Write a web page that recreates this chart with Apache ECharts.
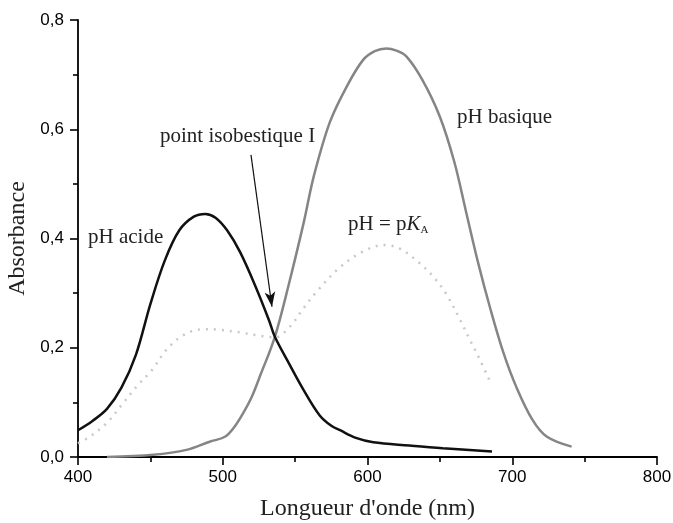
<!DOCTYPE html>
<html>
<head>
<meta charset="utf-8">
<script src="https://cdn.jsdelivr.net/npm/echarts@6/dist/echarts.min.js"></script>
<style>
  html, body { margin: 0; padding: 0; background: #fff; }
  #main { width: 673px; height: 523px; }
</style>
</head>
<body>
<div id="main"></div>
<script>
// spectres : [longueur d'onde (nm), absorbance]
const acide = [
  [400, 0.049], [410, 0.066], [420, 0.088], [430, 0.127], [440, 0.187],
  [450, 0.28], [460, 0.36], [470, 0.415], [480, 0.44], [488, 0.445],
  [495, 0.438], [503, 0.415], [512, 0.375], [523, 0.31], [532, 0.25],
  [536, 0.22], [546, 0.17], [556, 0.122], [567, 0.076], [575, 0.057],
  [581, 0.049], [592, 0.035], [604, 0.027], [629, 0.021], [652, 0.016],
  [686, 0.010]
];
const basique = [
  [420, 0.0], [452, 0.004], [475, 0.013], [491, 0.028], [501.5, 0.037],
  [508, 0.055], [514, 0.08], [520, 0.11], [526, 0.15], [536, 0.22],
  [546, 0.32], [556, 0.43], [563, 0.515], [574, 0.613], [586, 0.68],
  [597, 0.727], [605, 0.743], [613, 0.748], [620, 0.744], [627, 0.733],
  [638, 0.69], [650, 0.623], [660, 0.54], [668, 0.45], [676, 0.36],
  [685, 0.27], [694, 0.19], [703, 0.127], [714, 0.068], [724, 0.037],
  [741, 0.019]
];
const pka = [
  [400, 0.025], [408, 0.037], [419.8, 0.062], [431, 0.098], [440.5, 0.129],
  [451, 0.159], [461, 0.196], [472.7, 0.223], [486.6, 0.234], [498, 0.233],
  [512, 0.228], [523.4, 0.223], [536, 0.219], [546.5, 0.239], [555.7, 0.272],
  [565, 0.303], [580, 0.345], [596, 0.375], [611, 0.388], [622, 0.382],
  [635, 0.357], [645.5, 0.33], [654.7, 0.297], [664, 0.251], [670.8, 0.214],
  [677.7, 0.178], [685.7, 0.132]
];
// flèche du point isobestique
const fleche = [[519.5, 0.553], [534, 0.275]];

const serif = '"Liberation Serif", "DejaVu Serif", serif';
const sans = '"Liberation Sans", Arial, sans-serif';

const chart = echarts.init(document.getElementById('main'));

const tick = { color: '#000', width: 1.6 };

chart.setOption({
  animation: false,
  backgroundColor: '#fff',
  grid: { left: 78, right: 16, top: 20, bottom: 66, containLabel: false, outerBoundsMode: 'none' },
  xAxis: {
    type: 'value',
    min: 400, max: 800, interval: 100,
    name: "Longueur d'onde (nm)",
    nameLocation: 'middle',
    nameGap: 40,
    nameTextStyle: { fontFamily: serif, fontSize: 24, color: '#222' },
    axisLine: { lineStyle: { color: '#000', width: 1.8 } },
    axisTick: { show: true, inside: false, length: 8, lineStyle: tick },
    minorTick: { show: true, splitNumber: 2, length: 5, lineStyle: tick },
    axisLabel: { fontFamily: sans, fontSize: 17, color: '#000', margin: 12 },
    splitLine: { show: false }
  },
  yAxis: {
    type: 'value',
    min: 0, max: 0.8, interval: 0.2,
    name: 'Absorbance',
    nameLocation: 'middle',
    nameGap: 48,
    nameRotate: 90,
    nameTextStyle: { fontFamily: serif, fontSize: 24, color: '#222' },
    axisLine: { show: true, lineStyle: { color: '#000', width: 1.8 } },
    axisTick: { show: true, inside: false, length: 8, lineStyle: tick },
    minorTick: { show: true, splitNumber: 2, length: 5, lineStyle: tick },
    axisLabel: {
      fontFamily: sans, fontSize: 17, color: '#000', margin: 14,
      formatter: v => v.toFixed(1).replace('.', ',')
    },
    splitLine: { show: false }
  },
  series: [
    {
      name: 'pH = pKA',
      type: 'line',
      data: pka,
      smooth: 0.35,
      showSymbol: false,
      lineStyle: { color: '#c8c8c8', width: 2.5, type: [2, 6] },
      z: 1
    },
    {
      name: 'pH basique',
      type: 'line',
      data: basique,
      smooth: 0.35,
      showSymbol: false,
      lineStyle: { color: '#858585', width: 2.5 },
      z: 2
    },
    {
      name: 'pH acide',
      type: 'line',
      data: acide,
      smooth: 0.35,
      showSymbol: false,
      lineStyle: { color: '#111', width: 2.5 },
      z: 3,
      markLine: {
        silent: true,
        symbol: ['none', 'arrow'],
        symbolSize: [8, 15],
        label: { show: false },
        lineStyle: { color: '#111', width: 1.2, type: 'solid' },
        data: [[{ coord: fleche[0] }, { coord: fleche[1] }]]
      }
    }
  ],
  graphic: [
    {
      type: 'text', left: 88, top: 227,
      style: { text: 'pH acide', font: '21px ' + serif, fill: '#222' }
    },
    {
      type: 'text', left: 160, top: 126,
      style: { text: 'point isobestique I', font: '21px ' + serif, fill: '#222' }
    },
    {
      type: 'text', left: 457, top: 107,
      style: { text: 'pH basique', font: '21px ' + serif, fill: '#222' }
    },
    {
      type: 'text', left: 348, top: 214,
      style: {
        text: 'pH = p{i|K}{sub|A}',
        font: '21px ' + serif,
        fill: '#222',
        rich: {
          i: { fontFamily: serif, fontSize: 21, fontStyle: 'italic', fill: '#222' },
          sub: { fontFamily: serif, fontSize: 11, fill: '#222', padding: [12, 0, 0, 0] }
        }
      }
    }
  ]
});
</script>
</body>
</html>
